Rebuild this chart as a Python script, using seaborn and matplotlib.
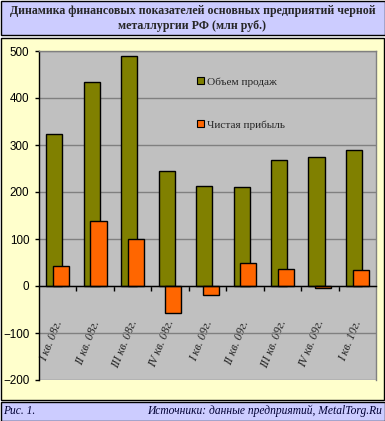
import pandas as pd
import seaborn as sns
import matplotlib.pyplot as plt
from matplotlib.patches import Rectangle, Patch
from matplotlib.ticker import FixedLocator
import matplotlib.transforms as mtransforms

# Data (mln rub.)
quarters = ['I кв. 08г.', 'II кв. 08г.', 'III кв. 08г.', 'IV кв. 08г.',
            'I кв. 09г.', 'II кв. 09г.', 'III кв. 09г.', 'IV кв. 09г.', 'I кв. 10г.']
sales = [323, 433, 489, 244, 213, 211, 268, 274, 289]
profit = [43, 138, 100, -58, -20, 48, 36, -4, 33]
series_names = ['Объем продаж', 'Чистая прибыль']

olive = '#808000'
orange = '#FF6600'
lavender = '#CCCCFF'
yellow = '#FFFFCC'
plot_bg = '#C0C0C0'
grid_gray = '#808080'

df = pd.DataFrame({
    'quarter': quarters * 2,
    'value': sales + profit,
    'series': [series_names[0]] * len(quarters) + [series_names[1]] * len(quarters),
})

sns.set_style('white')
plt.rcParams['font.family'] = ['Liberation Serif', 'DejaVu Serif']

W, H = 385, 421
fig = plt.figure(figsize=(W / 100, H / 100), dpi=100)
fig.patch.set_facecolor('white')


def px(x, y):
    return x / W, 1 - y / H


def box(x0, y0, x1, y1, color):
    fx, fy = px(x0, y1)
    fig.patches.append(Rectangle((fx, fy), (x1 - x0) / W, (y1 - y0) / H,
                                 transform=fig.transFigure, facecolor=color,
                                 edgecolor='black', linewidth=1.0, zorder=0))


# title, chart area and footer boxes
box(0.5, 0.5, 384.5, 35, lavender)
box(0.5, 37.5, 383.5, 399.5, yellow)
box(0.5, 401.5, 384.5, 420.5, lavender)

fig.text(*px(192.5, 11), 'Динамика финансовых показателей основных предприятий черной',
         ha='center', va='center', fontsize=8.6, fontweight='bold')
fig.text(*px(192.5, 26), 'металлургии РФ (млн руб.)',
         ha='center', va='center', fontsize=8.6, fontweight='bold')
fig.text(*px(3, 411), 'Рис. 1.', ha='left', va='center', fontsize=8.3,
         fontstyle='italic', color='#000033')
fig.text(*px(382, 411), 'Источники: данные предприятий, MetalTorg.Ru', ha='right',
         va='center', fontsize=8.3, fontstyle='italic', color='#000033')

# plot area
left, right, top, bottom = 39, 376, 51, 380
ax = fig.add_axes([left / W, 1 - bottom / H, (right - left) / W, (bottom - top) / H])
ax.set_zorder(2)
ax.set_facecolor(plot_bg)

sns.barplot(data=df, x='quarter', y='value', hue='series', order=quarters,
            hue_order=series_names, palette=[olive, orange], width=0.36, gap=-1.39,
            edgecolor='black', linewidth=1.0, saturation=1, legend=False, ax=ax,
            zorder=3)

ax.set_ylim(-200, 500)
ax.set_xlim(-0.5, len(quarters) - 0.5)
ax.set_yticks(range(-200, 501, 100))
ax.yaxis.grid(True, color=grid_gray, linewidth=1.0, zorder=1)
ax.set_axisbelow(True)
ax.set_xlabel('')
ax.set_ylabel('')

for s in ['top', 'right']:
    ax.spines[s].set_color(grid_gray)
    ax.spines[s].set_linewidth(1.0)
ax.spines['left'].set_color('black')
ax.spines['left'].set_linewidth(1.0)
ax.spines['bottom'].set_position(('data', 0))
ax.spines['bottom'].set_color('black')
ax.spines['bottom'].set_linewidth(1.0)
ax.spines['bottom'].set_zorder(4)

ax.tick_params(axis='y', direction='out', length=3, width=1, pad=4, left=True,
               labelsize=8.4, colors='black')
for lab in ax.get_yticklabels():
    lab.set_fontfamily('Liberation Sans')

# category labels at centres, tick marks at boundaries
ax.xaxis.set_minor_locator(FixedLocator([i + 0.5 for i in range(len(quarters) - 1)]))
ax.tick_params(axis='x', which='minor', direction='out', length=3.6, width=1,
               bottom=True, color='black')
ax.tick_params(axis='x', which='major', length=0, pad=23.5)
ax.set_xticks(range(len(quarters)))
ax.set_xticklabels(quarters, rotation=68, ha='right', va='top', fontsize=8.6,
                   fontstyle='italic')
offset = mtransforms.ScaledTranslation(7 / 100, 0, fig.dpi_scale_trans)
for lab in ax.get_xticklabels():
    lab.set_transform(lab.get_transform() + offset)

handles = [Patch(facecolor=olive, edgecolor='black', linewidth=0.8),
           Patch(facecolor=orange, edgecolor='black', linewidth=0.8)]
leg = ax.legend(handles, series_names, loc='upper left',
                bbox_to_anchor=px(197, 77), bbox_transform=fig.transFigure,
                frameon=False, fontsize=8.1, handlelength=0.6, handleheight=0.6,
                handletextpad=0.3, labelspacing=3.0, borderaxespad=0, borderpad=0)

fig.savefig('out.png', dpi=100, facecolor=fig.get_facecolor())
